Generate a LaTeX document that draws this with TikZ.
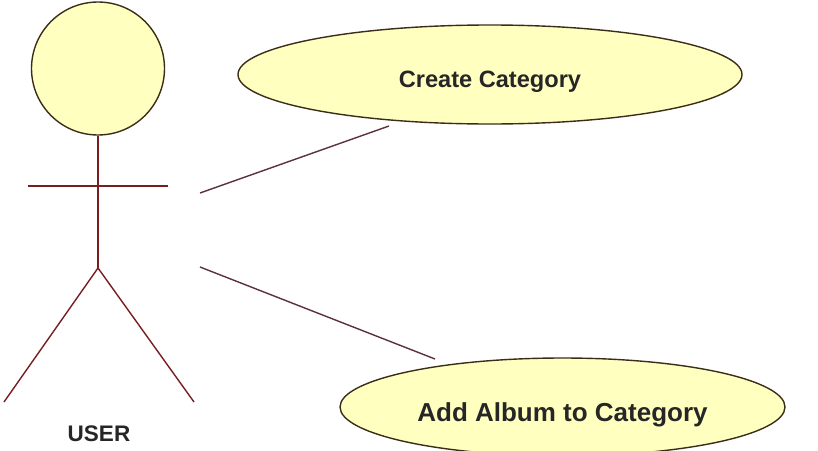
\documentclass[tikz,border=0pt]{standalone}
\usepackage{fontspec}
\setmainfont{Liberation Sans}
\usetikzlibrary{shapes.geometric}
\definecolor{ucfill}{RGB}{255,255,192}
\definecolor{ucedge}{RGB}{60,45,25}
\definecolor{actorline}{RGB}{120,30,30}
\definecolor{assoc}{RGB}{90,50,60}
\tikzset{
  usecase/.style={ellipse, draw=ucedge, fill=ucfill, line width=1.4pt, inner sep=0pt,
    text depth=0pt, font=\bfseries, text=black!85},
  actorlimb/.style={draw=actorline, line width=1.4pt},
  assocline/.style={draw=assoc, line width=1.4pt},
  actorlabel/.style={font=\fontsize{22.5}{26}\selectfont\bfseries, text=black!85, anchor=base, inner sep=0pt}
}
\begin{document}
\begin{tikzpicture}[x=1pt,y=-1pt]
\useasboundingbox (0,0) rectangle (818,450);
\clip (0,0) rectangle (818,450);
\fill[white] (0,0) rectangle (818,450);

% actor
\node[circle, draw=ucedge, fill=ucfill, line width=1.4pt, minimum size=133pt, inner sep=0pt] (head) at (98,68.5) {};
\coordinate (hip) at (98,268);
\coordinate (armL) at (28,186);
\coordinate (armR) at (168,186);
\coordinate (footL) at (4,402);
\coordinate (footR) at (194,402);
\draw[actorlimb] (head.south) -- (hip);
\draw[actorlimb] (armL) -- (armR);
\draw[actorlimb] (footL) -- (hip) -- (footR);
\node[actorlabel] (user) at (99,441) {USER};

% use cases
\node[usecase, minimum width=504pt, minimum height=99pt, text height=25pt,
  font=\fontsize{23.6}{28}\selectfont\bfseries] (create) at (490,74.5) {Create Category};
\node[usecase, minimum width=445pt, minimum height=98pt, text height=29pt,
  font=\fontsize{26}{30}\selectfont\bfseries] (addalbum) at (562.5,407) {Add Album to Category};

% associations
\coordinate (a1) at (200,193);
\coordinate (b1) at (389,126);
\coordinate (a2) at (200,267);
\coordinate (b2) at (435,359);
\draw[assocline] (a1) -- (b1);
\draw[assocline] (a2) -- (b2);
\end{tikzpicture}
\end{document}
